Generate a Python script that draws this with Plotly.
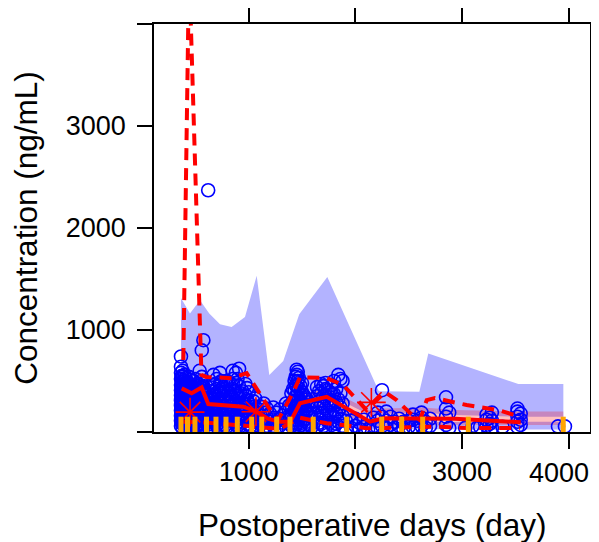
import plotly.graph_objects as go

# ---------------- data ----------------
# simulated prediction interval (blue area)
pi_days = [365, 449, 543, 630, 731, 840, 965, 1075, 1193, 1324, 1474, 1737, 2220, 2600, 2684, 3528, 3950]
pi_upper = [1314, 1161, 1292, 1161, 1057, 1030, 1128, 1533, 558, 695, 1155, 1520, 400, 394, 770, 470, 470]
pi_lower = [40, 40, 40, 40, 40, 40, 40, 45, 50, 50, 50, 50, 30, 25, 25, 25, 25]

# CI of simulated median (red band) and its inner part
band_days = [372, 465, 559, 621, 949, 1075, 1180, 1290, 1390, 1481, 1731, 2137, 2262, 2637, 2934, 3550, 3950]
band_hi = [500, 450, 500, 350, 330, 280, 230, 200, 200, 360, 430, 210, 230, 240, 215, 200, 200]
band_lo = [350, 300, 370, 200, 170, 120, 70, 50, 50, 200, 260, 60, 60, 70, 68, 68, 68]
band_in_hi = [450, 400, 450, 300, 280, 230, 180, 155, 155, 310, 380, 165, 180, 190, 166, 150, 150]
band_in_lo = [385, 335, 405, 235, 205, 155, 100, 80, 80, 235, 295, 95, 95, 101, 101, 101, 101]

# observed median (solid red)
med_days = [372, 465, 559, 621, 949, 1075, 1180, 1290, 1390, 1481, 1731, 2137, 2262, 2637, 2934, 3550]
med_conc = [428, 379, 437, 274, 248, 199, 130, 100, 100, 281, 345, 101, 134, 134, 130, 95]

# observed upper percentile (dashed red)
up_days = [387, 441, 557, 600, 840, 981, 1184, 1275, 1418, 1481, 1731, 1887, 2106, 2277, 2387, 2512, 2606, 2669, 2746, 3043, 3340, 3543]
up_conc = [705, 4560, 560, 540, 528, 577, 245, 117, 391, 538, 528, 460, 215, 391, 313, 186, 117, 313, 333, 264, 215, 150]

# observed lower percentile (dashed red)
lo_days = [387, 621, 981, 1184, 1290, 1481, 1731, 1887, 2106, 2277, 2512, 2746, 3043, 3340, 3543]
lo_conc = [100, 90, 60, 40, 30, 140, 85, 68, 36, 40, 50, 52, 40, 36, 40]

# red asterisks
star_days = [450, 1068, 2150]
star_conc = [195, 199, 290]

# orange bin marks along the bottom
bin_days = [365, 426, 496, 604, 693, 787, 893, 1028, 1122, 1262, 1387, 1605, 1919, 2247, 2434, 2631, 3059, 3949]
bin_height = 150

# observed concentrations, grouped by postoperative day
obs_by_day = {
    365: [60, 110, 160, 210, 260, 310, 360, 410, 460, 520, 580, 640, 740],
    372: [85, 135, 185, 235, 285, 335, 385, 435, 490, 550],
    380: [40, 90, 140, 190, 240, 290, 340, 400, 470, 540, 600],
    390: [65, 115, 165, 215, 265, 315, 370, 440, 510],
    400: [60, 120, 180, 240, 300, 360, 420, 500, 560],
    410: [80, 130, 190, 250, 310, 380, 450, 530],
    420: [40, 100, 160, 220, 280, 340, 420, 490],
    430: [70, 130, 190, 250, 310, 380, 450],
    440: [60, 130, 200, 270, 340, 410, 480, 540],
    450: [90, 160, 230, 300, 370, 440, 510],
    460: [40, 100, 170, 240, 310, 380, 450],
    470: [70, 140, 210, 280, 350, 420],
    480: [60, 130, 200, 270, 340, 420, 500],
    490: [90, 160, 230, 300, 380, 460],
    500: [40, 110, 180, 250, 330, 420, 520],
    510: [70, 140, 210, 290, 370, 450],
    520: [70, 140, 210, 290, 380, 470],
    530: [100, 170, 250, 330, 420],
    540: [50, 120, 200, 280, 360, 460, 600],
    550: [80, 160, 240, 320, 400, 500],
    560: [80, 160, 240, 320, 430, 540, 800],
    570: [110, 190, 280, 380],
    575: [60, 140, 230, 330, 450, 900],
    590: [100, 200, 300, 400],
    600: [90, 170, 260, 360],
    610: [70, 150, 240, 330],
    620: [50, 130, 220, 320, 2370],
    630: [100, 190, 280, 370],
    645: [80, 170, 280, 400],
    655: [50, 130, 220, 330],
    670: [40, 110, 190, 270, 360, 460, 560],
    685: [90, 180, 270, 370, 470],
    700: [70, 150, 230, 320, 420, 520],
    715: [50, 130, 210, 300, 400],
    730: [40, 120, 200, 290, 380, 480, 580],
    745: [100, 190, 280, 380, 500],
    760: [80, 160, 250, 340, 440],
    775: [60, 140, 230, 320, 420],
    790: [50, 130, 210, 300, 400, 500],
    805: [110, 200, 290, 380],
    820: [90, 170, 260, 350, 460],
    835: [60, 150, 250, 350, 470],
    850: [40, 130, 220, 320, 420, 520, 600],
    865: [100, 190, 290, 400],
    880: [80, 170, 270, 380, 480, 580],
    895: [60, 140, 240, 350, 520],
    910: [50, 130, 230, 340, 450, 620],
    925: [100, 180, 270, 380],
    940: [90, 180, 290, 400],
    955: [60, 150, 250, 330],
    970: [50, 140, 240, 360, 470],
    985: [110, 210, 310, 430],
    1000: [80, 170, 280, 390],
    1015: [60, 150, 250],
    1030: [40, 120, 220],
    1045: [100, 200, 300],
    1060: [70, 160, 250, 330],
    1075: [60, 140, 230],
    1090: [40, 110, 190],
    1110: [80, 160, 250],
    1140: [40, 110, 190, 280],
    1170: [60, 140, 230],
    1200: [30, 100, 180],
    1230: [60, 140, 240],
    1260: [30, 100, 190],
    1290: [60, 130, 220],
    1320: [30, 90, 160],
    1350: [50, 120, 200, 280],
    1380: [80, 160, 260],
    1400: [60, 150, 260, 380],
    1415: [90, 190, 300, 420],
    1430: [40, 120, 210, 300, 410, 500],
    1440: [60, 160, 250, 350, 460, 540],
    1450: [80, 170, 260, 350, 450, 560, 610],
    1460: [110, 200, 300, 400, 500, 590],
    1470: [50, 140, 230, 330, 430, 530],
    1485: [70, 160, 260, 360, 450],
    1500: [90, 190, 290, 390, 480],
    1515: [60, 160, 260, 360],
    1530: [40, 130, 230, 340],
    1545: [100, 210, 320],
    1560: [80, 180, 290],
    1575: [70, 190],
    1590: [50, 150, 260],
    1640: [50, 140, 240, 350, 440],
    1660: [90, 190, 300, 400],
    1680: [80, 180, 280, 380, 470],
    1700: [60, 160, 250, 350, 450],
    1720: [40, 130, 230, 330, 420, 480],
    1740: [110, 210, 310, 410],
    1760: [90, 190, 290, 390],
    1780: [70, 170, 270, 370, 460],
    1800: [50, 150, 260, 370, 500],
    1820: [80, 180, 290, 420],
    1840: [100, 200, 320, 560],
    1860: [130, 240, 380, 520],
    1880: [60, 160, 280, 500],
    1910: [30, 110],
    1960: [40, 110],
    2000: [60, 130],
    2040: [30, 90],
    2080: [50, 120],
    2120: [30],
    2170: [60, 140],
    2210: [40, 110, 190],
    2250: [60, 150, 410],
    2290: [40, 110, 200],
    2330: [70, 150],
    2370: [40, 100],
    2410: [60, 130],
    2450: [30, 100],
    2500: [50, 110],
    2540: [50, 120, 170],
    2580: [40, 110],
    2620: [60, 140, 190],
    2660: [40, 100],
    2700: [60, 130],
    2850: [340, 230, 150, 70],
    2880: [40, 190],
    3030: [40],
    3100: [60],
    3140: [40],
    3170: [50],
    3230: [60, 120, 170],
    3260: [80, 140],
    3280: [40, 110, 190],
    3380: [50],
    3520: [50, 100, 150, 200, 230],
    3550: [70, 120, 180],
    3900: [55],
    3965: [55],
}

x_ticks = [1000, 2000, 3000, 4000]
x_ticktext = ["1000", "2000", "3000", ""]   # last label drawn as an annotation so it stays on the page
last_x_label = "4000"
y_ticks = [0, 1000, 2000, 3000, 4000]
y_ticktext = ["", "1000", "2000", "3000", ""]
x_title = "Postoperative days (day)"
y_title = "Concentration (ng/mL)"

# ---------------- figure ----------------
RED = "#FF0000"
fig = go.Figure()

fig.add_trace(go.Scatter(
    x=pi_days + pi_days[::-1], y=pi_upper + pi_lower[::-1],
    fill="toself", fillcolor="rgb(179,179,255)", line=dict(width=0),
    mode="lines", hoverinfo="skip"))

fig.add_trace(go.Scatter(
    x=band_days + band_days[::-1], y=band_hi + band_lo[::-1],
    fill="toself", fillcolor="rgba(255,0,0,0.25)", line=dict(width=0),
    mode="lines", hoverinfo="skip"))
fig.add_trace(go.Scatter(
    x=band_days + band_days[::-1], y=band_in_hi + band_in_lo[::-1],
    fill="toself", fillcolor="rgb(255,192,192)", line=dict(width=0),
    mode="lines", hoverinfo="skip"))

obs_x, obs_y = [], []
for d, vals in obs_by_day.items():
    for v in vals:
        obs_x.append(d)
        obs_y.append(v)
fig.add_trace(go.Scatter(
    x=obs_x, y=obs_y, mode="markers",
    marker=dict(symbol="circle-open", size=13, color="#0000FF",
                line=dict(width=1.6, color="#0000FF"))))

fig.add_trace(go.Scatter(x=up_days, y=up_conc, mode="lines",
                         line=dict(color=RED, width=4, dash="12px,8px")))
fig.add_trace(go.Scatter(x=lo_days, y=lo_conc, mode="lines",
                         line=dict(color=RED, width=4, dash="12px,8px")))
fig.add_trace(go.Scatter(x=med_days, y=med_conc, mode="lines",
                         line=dict(color=RED, width=4)))

fig.add_trace(go.Scatter(
    x=star_days, y=star_conc, mode="markers",
    marker=dict(symbol="asterisk-open", size=24, color=RED,
                line=dict(width=1.6, color=RED))))

bx, by = [], []
for d in bin_days:
    bx += [d, d, None]
    by += [0, bin_height, None]
fig.add_trace(go.Scatter(x=bx, y=by, mode="lines",
                         line=dict(color="#FFA500", width=5)))

FONT = "Liberation Sans, Arial, Helvetica, sans-serif"
# the page body adds an 8px offset, so the figure is 8px smaller than the window
fig.update_layout(
    width=591, height=534,
    margin=dict(l=146, r=9, t=16, b=110),
    plot_bgcolor="white", paper_bgcolor="white",
    showlegend=False,
    font=dict(family=FONT, color="black"),
)
axis_common = dict(
    ticks="outside", ticklen=15, tickwidth=1.5, tickcolor="black",
    showline=True, linecolor="black", linewidth=1.5, mirror="allticks",
    showgrid=False, zeroline=False, automargin=False,
    ticklabeloverflow="allow",
    tickfont=dict(size=27, family=FONT, color="black"),
)
fig.update_xaxes(
    range=[112, 4200], tickmode="array", tickvals=x_ticks, ticktext=x_ticktext,
    ticklabelstandoff=0,
    **axis_common)
fig.update_yaxes(
    range=[0, 4000], tickmode="array", tickvals=y_ticks, ticktext=y_ticktext,
    ticklabelstandoff=6,
    title=dict(text=y_title, font=dict(size=31.5, family=FONT), standoff=20),
    **axis_common)

fig.add_annotation(
    text=last_x_label, xref="paper", yref="paper", x=1, y=0,
    xanchor="right", yanchor="middle", yshift=-41, xshift=1,
    showarrow=False, font=dict(size=27, family=FONT, color="black"))
fig.add_annotation(
    text=x_title, xref="paper", yref="paper", x=0.5, y=0,
    xanchor="center", yanchor="middle", yshift=-93,
    showarrow=False, font=dict(size=31.5, family=FONT, color="black"))

fig.write_html("out.html")
